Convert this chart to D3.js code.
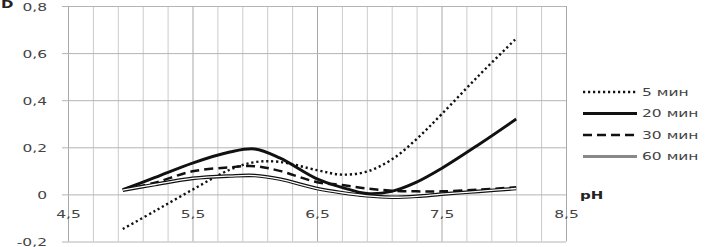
<!DOCTYPE html>
<html>
<head>
<meta charset="utf-8">
<script src="https://cdn.jsdelivr.net/npm/d3@7"></script>
<style>
  html, body { margin: 0; padding: 0; background: #fff; }
  svg { display: block; }
  text { font-family: "DejaVu Sans", Verdana, sans-serif; }
</style>
</head>
<body>
<div id="chart"></div>
<script>
'use strict';

// ── Data ─────────────────────────────────────────────────────────────────────
const pH   = [4.94, 5.2, 5.5, 5.8, 6.0, 6.2, 6.5, 6.7, 6.9, 7.1, 7.3, 7.5, 7.8, 8.1];
const d5   = [-0.147, -0.07, 0.02, 0.105, 0.137, 0.138, 0.103, 0.084, 0.097, 0.148, 0.235, 0.34, 0.505, 0.662];
const d20  = [0.02, 0.072, 0.133, 0.18, 0.193, 0.155, 0.066, 0.03, 0.004, 0.013, 0.052, 0.11, 0.212, 0.32];
const d30  = [0.02, 0.05, 0.098, 0.115, 0.12, 0.1, 0.052, 0.04, 0.025, 0.016, 0.013, 0.013, 0.02, 0.03];
const d60  = [0.018, 0.042, 0.068, 0.078, 0.08, 0.065, 0.025, 0.007, -0.006, -0.012, -0.008, 0.001, 0.013, 0.025];
const seriesNames = ['5 мин', '20 мин', '30 мин', '60 мин'];

const xMajorTicks = [4.5, 5.5, 6.5, 7.5, 8.5];
const xMinorTicks = [4.7, 4.9, 5.1, 5.3, 5.7, 5.9, 6.1, 6.3, 6.7, 6.9, 7.1, 7.3, 7.7, 7.9, 8.1, 8.3];
const yTicks      = [-0.2, 0, 0.2, 0.4, 0.6, 0.8];

// ── Layout ───────────────────────────────────────────────────────────────────
const W = 705, H = 247;
const X0 = 68, X1 = 566, Y0 = 241.5, Y1 = 6;
const SX = 1.55;  // text in the source is stretched horizontally

const x = d3.scaleLinear().domain([4.5, 8.5]).range([X0, X1]);
const y = d3.scaleLinear().domain([-0.2, 0.8]).range([Y0, Y1]);

const fmt = v => v === 0 ? '0' : d3.format('.1f')(v).replace('.', ',').replace('−', '-');

const svg = d3.select('#chart').append('svg')
  .attr('width', W).attr('height', H)
  .attr('viewBox', `0 0 ${W} ${H}`);

// ── Grid ─────────────────────────────────────────────────────────────────────
svg.append('g')
  .attr('transform', `translate(0,${Y0})`)
  .call(d3.axisBottom(x).tickValues(xMinorTicks).tickSize(-(Y0 - Y1)).tickFormat(''))
  .call(g => g.select('.domain').remove())
  .call(g => g.selectAll('.tick line').attr('stroke', '#cbcbcb').attr('stroke-width', 1));

svg.append('g')
  .attr('transform', `translate(0,${Y0})`)
  .call(d3.axisBottom(x).tickValues(xMajorTicks).tickSize(-(Y0 - Y1)).tickFormat(''))
  .call(g => g.select('.domain').remove())
  .call(g => g.selectAll('.tick line').attr('stroke', '#a8a8a8').attr('stroke-width', 1));

const yAxis = svg.append('g')
  .attr('transform', `translate(${X0 - 6},0)`)
  .call(d3.axisLeft(y).tickValues(yTicks).tickSize(-(X1 - X0 + 6)).tickPadding(0).tickFormat(fmt));
yAxis.select('.domain').remove();
yAxis.selectAll('.tick line').attr('stroke', '#b4b4b4').attr('stroke-width', 1);
yAxis.selectAll('.tick text')
  .attr('x', -15 / SX)
  .attr('dy', 0)
  .attr('y', 0)
  .attr('transform', `translate(0,4.4) scale(${SX},1)`)
  .attr('text-anchor', 'end')
  .attr('fill', '#444')
  .style('font-size', '10px');

const xAxis = svg.append('g')
  .attr('transform', `translate(0,${y(0)})`)
  .call(d3.axisBottom(x).tickValues(xMajorTicks).tickSize(0).tickPadding(0).tickFormat(fmt));
xAxis.select('.domain').remove();
xAxis.selectAll('.tick text')
  .attr('y', 0).attr('dy', 0)
  .attr('transform', `translate(0,24) scale(${SX},1)`)
  .attr('fill', '#444')
  .style('font-size', '10px');

// ── Axis titles ──────────────────────────────────────────────────────────────
svg.append('text')
  .attr('transform', `translate(1,8) scale(1.5,1)`)
  .attr('font-weight', 'bold').attr('font-size', '10px').attr('fill', '#222')
  .text('D');
svg.append('text')
  .attr('transform', `translate(580,199) scale(1.5,1)`)
  .attr('font-weight', 'bold').attr('font-size', '10px').attr('fill', '#222')
  .text('pH');

// ── Series ───────────────────────────────────────────────────────────────────
const line = d3.line()
  .x((d, i) => x(pH[i]))
  .y(d => y(d))
  .curve(d3.curveCatmullRom.alpha(0.5));

const styles = [
  { data: d5,  stroke: '#111', width: 2.4, dash: '2.2,2.8' },
  { data: d20, stroke: '#111', width: 2.9, dash: null },
  { data: d30, stroke: '#111', width: 2.5, dash: '9,5' },
  { data: d60, stroke: '#111', width: 3.6, dash: null, inner: 1.3 },
];

const plot = svg.append('g').attr('class', 'series');
styles.forEach(s => {
  plot.append('path')
    .attr('d', line(s.data))
    .attr('fill', 'none')
    .attr('stroke', s.stroke)
    .attr('stroke-width', s.width)
    .attr('stroke-dasharray', s.dash)
    .attr('stroke-linejoin', 'round');
  if (s.inner) {
    plot.append('path')
      .attr('d', line(s.data))
      .attr('fill', 'none')
      .attr('stroke', '#fff')
      .attr('stroke-width', s.inner);
  }
});

// ── Legend ───────────────────────────────────────────────────────────────────
const legendY = [92, 113.5, 135, 156.5];
const lg = svg.append('g').attr('class', 'legend');
seriesNames.forEach((name, i) => {
  const s = styles[i];
  lg.append('line')
    .attr('x1', 583).attr('x2', 637)
    .attr('y1', legendY[i]).attr('y2', legendY[i])
    .attr('stroke', s.inner ? '#888' : s.stroke)
    .attr('stroke-width', s.inner ? 3 : s.width)
    .attr('stroke-dasharray', s.dash);
  lg.append('text')
    .attr('transform', `translate(642,${legendY[i] + 3.6}) scale(${SX},1)`)
    .attr('font-size', '10px').attr('fill', '#444')
    .text(name);
});
</script>
</body>
</html>
